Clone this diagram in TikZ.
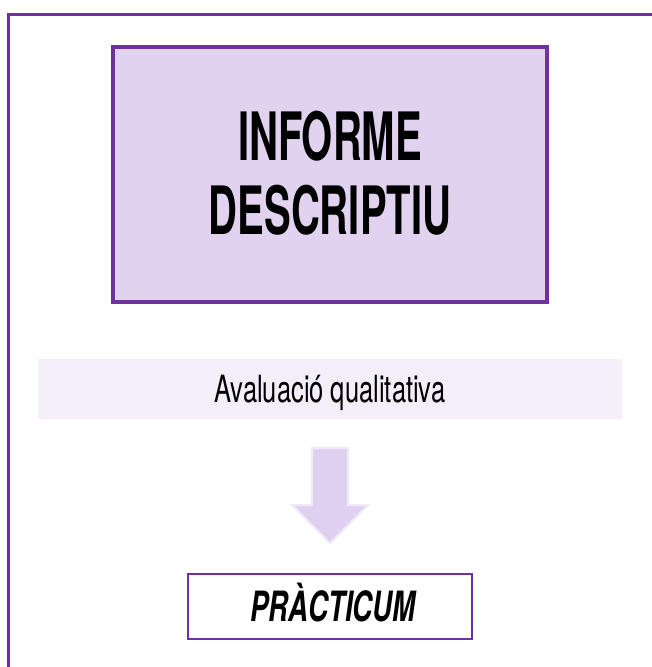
\documentclass[tikz,border=0pt]{standalone}
\usepackage{fontspec}
\newfontfamily\titlefont[FakeStretch=0.6]{TeX Gyre Heros}
\newfontfamily\bandfont[FakeStretch=0.68]{TeX Gyre Heros}
\newfontfamily\pracfont[FakeStretch=0.66]{TeX Gyre Heros}
\definecolor{frame}{HTML}{7030A0}
\definecolor{boxfill}{HTML}{E1D2F0}
\definecolor{bandfill}{HTML}{F4EEF9}
\definecolor{arrowfill}{HTML}{E0D0EF}
\definecolor{arrowedge}{HTML}{F1E8F8}
\tikzset{
  titlebox/.style={draw=frame, line width=4pt, fill=boxfill},
  bandbox/.style={fill=bandfill, draw=none},
  pracbox/.style={draw=frame, line width=2.5pt, fill=white},
  blockarrow/.style={fill=arrowfill, draw=arrowedge, line width=2pt, line join=miter}
}
\begin{document}
\begin{tikzpicture}[x=1pt, y=-1pt]
\useasboundingbox (0,0) rectangle (651,667);
% outer frame
\coordinate (fbl) at (8.7,668);
\coordinate (ftl) at (8.7,14.7);
\coordinate (ftr) at (652,14.7);
\draw[frame, line width=3.3pt] (fbl) -- (ftl) -- (ftr);
% title box
\draw[titlebox] (113,47) rectangle (547,302);
\node[inner sep=0pt, align=center, font={\titlefont\bfseries\fontsize{66.7}{74}\selectfont}] (title) at (330,173) {INFORME\\DESCRIPTIU};
% band
\fill[bandbox] (38,359) rectangle (622,419);
\node[inner sep=0pt, anchor=base, font={\bandfont\fontsize{37.5}{40}\selectfont}] (band) at (330,402) {Avaluació qualitativa};
% arrow
\draw[blockarrow] (312,448) -- (348,448) -- (348,505) -- (368,505) -- (330,543) -- (292,505) -- (312,505) -- cycle;
% practicum box
\draw[pracbox] (188,574) rectangle (472,639);
\node[inner sep=0pt, anchor=base, font={\pracfont\bfseries\itshape\fontsize{41.7}{44}\selectfont}] (prac) at (333,621) {PRÀCTICUM};
\end{tikzpicture}
\end{document}
